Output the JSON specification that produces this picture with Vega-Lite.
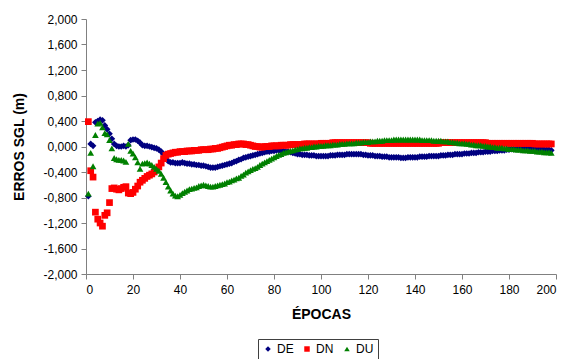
{
  "$schema": "https://vega.github.io/schema/vega-lite/v6.json",
  "width": 470,
  "height": 255,
  "autosize": {"type": "none"},
  "padding": {"left": 86, "top": 19, "right": 15, "bottom": 85},
  "background": "white",
  "config": {
    "view": {"stroke": null},
    "font": "Liberation Sans",
    "axis": {"grid": false, "domainColor": "#808080", "tickColor": "#808080", "labelColor": "black", "labelFont": "Liberation Sans", "labelFontSize": 12, "titleFont": "Liberation Sans", "titleFontSize": 14, "titleFontWeight": "bold", "titleColor": "black", "tickSize": 5}
  },
  "data": {"values": [
{"e":1,"DE":-0.78,"DN":0.39,"DU":-0.74},
{"e":2,"DE":0.04,"DN":-0.38,"DU":-0.10},
{"e":3,"DE":0.01,"DN":-0.48,"DU":-0.31},
{"e":4,"DE":0.38,"DN":-1.03,"DU":0.18},
{"e":5,"DE":0.40,"DN":-1.14,"DU":0.36},
{"e":6,"DE":0.42,"DN":-1.20,"DU":0.37},
{"e":7,"DE":0.41,"DN":-1.25,"DU":0.30},
{"e":8,"DE":0.33,"DN":-1.08,"DU":0.21},
{"e":9,"DE":0.27,"DN":-1.04,"DU":0.19},
{"e":10,"DE":0.20,"DN":-0.88,"DU":0.10},
{"e":11,"DE":0.12,"DN":-0.66,"DU":-0.03},
{"e":12,"DE":0.04,"DN":-0.65,"DU":-0.18},
{"e":13,"DE":0.01,"DN":-0.67,"DU":-0.20},
{"e":14,"DE":0.00,"DN":-0.68,"DU":-0.21},
{"e":15,"DE":0.00,"DN":-0.66,"DU":-0.21},
{"e":16,"DE":0.01,"DN":-0.64,"DU":-0.22},
{"e":17,"DE":0.00,"DN":-0.63,"DU":-0.24},
{"e":18,"DE":0.02,"DN":-0.73,"DU":0.04},
{"e":19,"DE":0.10,"DN":-0.74,"DU":-0.07},
{"e":20,"DE":0.11,"DN":-0.72,"DU":-0.11},
{"e":21,"DE":0.11,"DN":-0.67,"DU":-0.17},
{"e":22,"DE":0.09,"DN":-0.62,"DU":-0.25},
{"e":23,"DE":0.06,"DN":-0.56,"DU":-0.35},
{"e":24,"DE":0.02,"DN":-0.53,"DU":-0.27},
{"e":25,"DE":0.01,"DN":-0.50,"DU":-0.26},
{"e":26,"DE":0.01,"DN":-0.47,"DU":-0.25},
{"e":27,"DE":0.00,"DN":-0.45,"DU":-0.27},
{"e":28,"DE":-0.01,"DN":-0.43,"DU":-0.29},
{"e":29,"DE":-0.02,"DN":-0.40,"DU":-0.32},
{"e":30,"DE":-0.03,"DN":-0.36,"DU":-0.35},
{"e":31,"DE":-0.05,"DN":-0.32,"DU":-0.38},
{"e":32,"DE":-0.08,"DN":-0.26,"DU":-0.43},
{"e":33,"DE":-0.12,"DN":-0.19,"DU":-0.49},
{"e":34,"DE":-0.19,"DN":-0.14,"DU":-0.56},
{"e":35,"DE":-0.23,"DN":-0.12,"DU":-0.63},
{"e":36,"DE":-0.25,"DN":-0.11,"DU":-0.69},
{"e":37,"DE":-0.25,"DN":-0.10,"DU":-0.74},
{"e":38,"DE":-0.26,"DN":-0.09,"DU":-0.77},
{"e":39,"DE":-0.26,"DN":-0.09,"DU":-0.78},
{"e":40,"DE":-0.26,"DN":-0.08,"DU":-0.76},
{"e":41,"DE":-0.25,"DN":-0.08,"DU":-0.73},
{"e":42,"DE":-0.26,"DN":-0.08,"DU":-0.71},
{"e":43,"DE":-0.27,"DN":-0.07,"DU":-0.69},
{"e":44,"DE":-0.27,"DN":-0.07,"DU":-0.67},
{"e":45,"DE":-0.28,"DN":-0.07,"DU":-0.66},
{"e":46,"DE":-0.28,"DN":-0.06,"DU":-0.65},
{"e":47,"DE":-0.29,"DN":-0.06,"DU":-0.64},
{"e":48,"DE":-0.29,"DN":-0.06,"DU":-0.62},
{"e":49,"DE":-0.30,"DN":-0.05,"DU":-0.61},
{"e":50,"DE":-0.30,"DN":-0.05,"DU":-0.60},
{"e":51,"DE":-0.31,"DN":-0.05,"DU":-0.61},
{"e":52,"DE":-0.32,"DN":-0.05,"DU":-0.62},
{"e":53,"DE":-0.33,"DN":-0.04,"DU":-0.63},
{"e":54,"DE":-0.33,"DN":-0.04,"DU":-0.63},
{"e":55,"DE":-0.33,"DN":-0.03,"DU":-0.62},
{"e":56,"DE":-0.32,"DN":-0.03,"DU":-0.61},
{"e":57,"DE":-0.31,"DN":-0.02,"DU":-0.60},
{"e":58,"DE":-0.30,"DN":-0.01,"DU":-0.59},
{"e":59,"DE":-0.29,"DN":0.00,"DU":-0.58},
{"e":60,"DE":-0.28,"DN":0.01,"DU":-0.56},
{"e":61,"DE":-0.27,"DN":0.02,"DU":-0.55},
{"e":62,"DE":-0.26,"DN":0.02,"DU":-0.53},
{"e":63,"DE":-0.24,"DN":0.03,"DU":-0.52},
{"e":64,"DE":-0.23,"DN":0.03,"DU":-0.50},
{"e":65,"DE":-0.21,"DN":0.04,"DU":-0.49},
{"e":66,"DE":-0.20,"DN":0.04,"DU":-0.46},
{"e":67,"DE":-0.18,"DN":0.04,"DU":-0.44},
{"e":68,"DE":-0.17,"DN":0.03,"DU":-0.41},
{"e":69,"DE":-0.16,"DN":0.03,"DU":-0.39},
{"e":70,"DE":-0.15,"DN":0.02,"DU":-0.37},
{"e":71,"DE":-0.14,"DN":0.01,"DU":-0.35},
{"e":72,"DE":-0.13,"DN":0.00,"DU":-0.34},
{"e":73,"DE":-0.12,"DN":0.00,"DU":-0.32},
{"e":74,"DE":-0.11,"DN":-0.01,"DU":-0.29},
{"e":75,"DE":-0.10,"DN":-0.01,"DU":-0.27},
{"e":76,"DE":-0.09,"DN":0.00,"DU":-0.25},
{"e":77,"DE":-0.08,"DN":0.00,"DU":-0.23},
{"e":78,"DE":-0.08,"DN":0.00,"DU":-0.21},
{"e":79,"DE":-0.07,"DN":0.01,"DU":-0.19},
{"e":80,"DE":-0.07,"DN":0.01,"DU":-0.17},
{"e":81,"DE":-0.06,"DN":0.01,"DU":-0.15},
{"e":82,"DE":-0.06,"DN":0.01,"DU":-0.13},
{"e":83,"DE":-0.07,"DN":0.02,"DU":-0.12},
{"e":84,"DE":-0.07,"DN":0.02,"DU":-0.10},
{"e":85,"DE":-0.08,"DN":0.02,"DU":-0.09},
{"e":86,"DE":-0.08,"DN":0.02,"DU":-0.08},
{"e":87,"DE":-0.09,"DN":0.03,"DU":-0.07},
{"e":88,"DE":-0.10,"DN":0.03,"DU":-0.06},
{"e":89,"DE":-0.11,"DN":0.03,"DU":-0.05},
{"e":90,"DE":-0.12,"DN":0.03,"DU":-0.04},
{"e":91,"DE":-0.12,"DN":0.03,"DU":-0.03},
{"e":92,"DE":-0.13,"DN":0.03,"DU":-0.03},
{"e":93,"DE":-0.13,"DN":0.04,"DU":-0.02},
{"e":94,"DE":-0.13,"DN":0.04,"DU":-0.02},
{"e":95,"DE":-0.14,"DN":0.04,"DU":-0.01},
{"e":96,"DE":-0.14,"DN":0.04,"DU":-0.01},
{"e":97,"DE":-0.14,"DN":0.04,"DU":0.00},
{"e":98,"DE":-0.15,"DN":0.04,"DU":0.00},
{"e":99,"DE":-0.15,"DN":0.04,"DU":0.01},
{"e":100,"DE":-0.15,"DN":0.05,"DU":0.01},
{"e":101,"DE":-0.15,"DN":0.05,"DU":0.01},
{"e":102,"DE":-0.15,"DN":0.05,"DU":0.02},
{"e":103,"DE":-0.15,"DN":0.05,"DU":0.02},
{"e":104,"DE":-0.14,"DN":0.05,"DU":0.02},
{"e":105,"DE":-0.14,"DN":0.06,"DU":0.03},
{"e":106,"DE":-0.14,"DN":0.06,"DU":0.03},
{"e":107,"DE":-0.13,"DN":0.06,"DU":0.03},
{"e":108,"DE":-0.13,"DN":0.06,"DU":0.04},
{"e":109,"DE":-0.13,"DN":0.06,"DU":0.04},
{"e":110,"DE":-0.13,"DN":0.06,"DU":0.04},
{"e":111,"DE":-0.12,"DN":0.06,"DU":0.05},
{"e":112,"DE":-0.12,"DN":0.06,"DU":0.05},
{"e":113,"DE":-0.12,"DN":0.06,"DU":0.05},
{"e":114,"DE":-0.12,"DN":0.06,"DU":0.05},
{"e":115,"DE":-0.12,"DN":0.06,"DU":0.06},
{"e":116,"DE":-0.12,"DN":0.06,"DU":0.06},
{"e":117,"DE":-0.12,"DN":0.06,"DU":0.06},
{"e":118,"DE":-0.13,"DN":0.06,"DU":0.07},
{"e":119,"DE":-0.13,"DN":0.06,"DU":0.07},
{"e":120,"DE":-0.14,"DN":0.06,"DU":0.07},
{"e":121,"DE":-0.14,"DN":0.05,"DU":0.08},
{"e":122,"DE":-0.14,"DN":0.05,"DU":0.08},
{"e":123,"DE":-0.15,"DN":0.05,"DU":0.08},
{"e":124,"DE":-0.15,"DN":0.05,"DU":0.09},
{"e":125,"DE":-0.15,"DN":0.05,"DU":0.09},
{"e":126,"DE":-0.16,"DN":0.05,"DU":0.09},
{"e":127,"DE":-0.16,"DN":0.05,"DU":0.10},
{"e":128,"DE":-0.16,"DN":0.05,"DU":0.10},
{"e":129,"DE":-0.17,"DN":0.05,"DU":0.10},
{"e":130,"DE":-0.17,"DN":0.05,"DU":0.10},
{"e":131,"DE":-0.17,"DN":0.05,"DU":0.11},
{"e":132,"DE":-0.17,"DN":0.05,"DU":0.11},
{"e":133,"DE":-0.17,"DN":0.05,"DU":0.11},
{"e":134,"DE":-0.18,"DN":0.05,"DU":0.11},
{"e":135,"DE":-0.18,"DN":0.05,"DU":0.11},
{"e":136,"DE":-0.18,"DN":0.05,"DU":0.11},
{"e":137,"DE":-0.17,"DN":0.05,"DU":0.11},
{"e":138,"DE":-0.17,"DN":0.05,"DU":0.11},
{"e":139,"DE":-0.17,"DN":0.05,"DU":0.11},
{"e":140,"DE":-0.17,"DN":0.05,"DU":0.11},
{"e":141,"DE":-0.17,"DN":0.05,"DU":0.11},
{"e":142,"DE":-0.16,"DN":0.05,"DU":0.11},
{"e":143,"DE":-0.16,"DN":0.05,"DU":0.10},
{"e":144,"DE":-0.16,"DN":0.05,"DU":0.10},
{"e":145,"DE":-0.16,"DN":0.05,"DU":0.10},
{"e":146,"DE":-0.15,"DN":0.05,"DU":0.10},
{"e":147,"DE":-0.15,"DN":0.05,"DU":0.10},
{"e":148,"DE":-0.15,"DN":0.05,"DU":0.09},
{"e":149,"DE":-0.15,"DN":0.05,"DU":0.09},
{"e":150,"DE":-0.15,"DN":0.05,"DU":0.09},
{"e":151,"DE":-0.14,"DN":0.06,"DU":0.09},
{"e":152,"DE":-0.14,"DN":0.06,"DU":0.08},
{"e":153,"DE":-0.14,"DN":0.06,"DU":0.08},
{"e":154,"DE":-0.13,"DN":0.06,"DU":0.08},
{"e":155,"DE":-0.13,"DN":0.06,"DU":0.07},
{"e":156,"DE":-0.13,"DN":0.06,"DU":0.07},
{"e":157,"DE":-0.12,"DN":0.06,"DU":0.06},
{"e":158,"DE":-0.12,"DN":0.06,"DU":0.06},
{"e":159,"DE":-0.12,"DN":0.06,"DU":0.05},
{"e":160,"DE":-0.12,"DN":0.06,"DU":0.05},
{"e":161,"DE":-0.11,"DN":0.06,"DU":0.05},
{"e":162,"DE":-0.11,"DN":0.06,"DU":0.04},
{"e":163,"DE":-0.11,"DN":0.06,"DU":0.04},
{"e":164,"DE":-0.10,"DN":0.06,"DU":0.03},
{"e":165,"DE":-0.10,"DN":0.06,"DU":0.03},
{"e":166,"DE":-0.10,"DN":0.06,"DU":0.02},
{"e":167,"DE":-0.09,"DN":0.06,"DU":0.02},
{"e":168,"DE":-0.09,"DN":0.06,"DU":0.02},
{"e":169,"DE":-0.09,"DN":0.06,"DU":0.01},
{"e":170,"DE":-0.08,"DN":0.06,"DU":0.01},
{"e":171,"DE":-0.08,"DN":0.05,"DU":0.00},
{"e":172,"DE":-0.08,"DN":0.05,"DU":0.00},
{"e":173,"DE":-0.07,"DN":0.05,"DU":-0.01},
{"e":174,"DE":-0.07,"DN":0.05,"DU":-0.01},
{"e":175,"DE":-0.07,"DN":0.05,"DU":-0.02},
{"e":176,"DE":-0.06,"DN":0.05,"DU":-0.02},
{"e":177,"DE":-0.06,"DN":0.05,"DU":-0.02},
{"e":178,"DE":-0.06,"DN":0.05,"DU":-0.03},
{"e":179,"DE":-0.05,"DN":0.05,"DU":-0.03},
{"e":180,"DE":-0.05,"DN":0.05,"DU":-0.04},
{"e":181,"DE":-0.04,"DN":0.05,"DU":-0.04},
{"e":182,"DE":-0.04,"DN":0.05,"DU":-0.04},
{"e":183,"DE":-0.04,"DN":0.05,"DU":-0.05},
{"e":184,"DE":-0.03,"DN":0.05,"DU":-0.05},
{"e":185,"DE":-0.03,"DN":0.05,"DU":-0.05},
{"e":186,"DE":-0.03,"DN":0.05,"DU":-0.06},
{"e":187,"DE":-0.02,"DN":0.05,"DU":-0.06},
{"e":188,"DE":-0.02,"DN":0.05,"DU":-0.06},
{"e":189,"DE":-0.03,"DN":0.05,"DU":-0.07},
{"e":190,"DE":-0.03,"DN":0.05,"DU":-0.07},
{"e":191,"DE":-0.03,"DN":0.04,"DU":-0.07},
{"e":192,"DE":-0.04,"DN":0.04,"DU":-0.08},
{"e":193,"DE":-0.04,"DN":0.04,"DU":-0.08},
{"e":194,"DE":-0.04,"DN":0.04,"DU":-0.08},
{"e":195,"DE":-0.05,"DN":0.04,"DU":-0.09},
{"e":196,"DE":-0.05,"DN":0.04,"DU":-0.09},
{"e":197,"DE":-0.05,"DN":0.04,"DU":-0.09},
{"e":198,"DE":-0.06,"DN":0.04,"DU":-0.10}
  ]},
  "transform": [{"fold": ["DE", "DN", "DU"], "as": ["serie", "valor"]}],
  "mark": {"type": "point", "filled": true, "size": 45, "opacity": 1},
  "encoding": {
    "x": {"field": "e", "type": "quantitative", "scale": {"domain": [0, 200], "nice": false}, "axis": {"values": [0,20,40,60,80,100,120,140,160,180,200], "title": "ÉPOCAS", "titlePadding": 12, "labelPadding": 5}},
    "y": {"field": "valor", "type": "quantitative", "scale": {"domain": [-2, 2], "nice": false}, "axis": {"values": [-2,-1.6,-1.2,-0.8,-0.4,0,0.4,0.8,1.2,1.6,2], "title": "ERROS SGL (m)", "titlePadding": 16, "labelPadding": 4, "labelExpr": "replace(replace(format(datum.value, '.3f'), '.', ','), '\u2212', '-')"}},
    "color": {"field": "serie", "type": "nominal", "scale": {"domain": ["DE", "DN", "DU"], "range": ["#000080", "#FF0000", "#008000"]},
      "legend": {"title": null, "orient": "none", "legendX": 172, "legendY": 320, "direction": "horizontal", "strokeColor": "#404040", "padding": 4, "labelFontSize": 12, "labelFont": "Liberation Sans", "symbolSize": 30, "columnPadding": 7, "labelOffset": 3, "symbolOpacity": 1}},
    "shape": {"field": "serie", "type": "nominal", "scale": {"domain": ["DE", "DN", "DU"], "range": ["diamond", "square", "triangle-up"]}},
    "order": {"field": "serie", "type": "ordinal"}
  }
}
